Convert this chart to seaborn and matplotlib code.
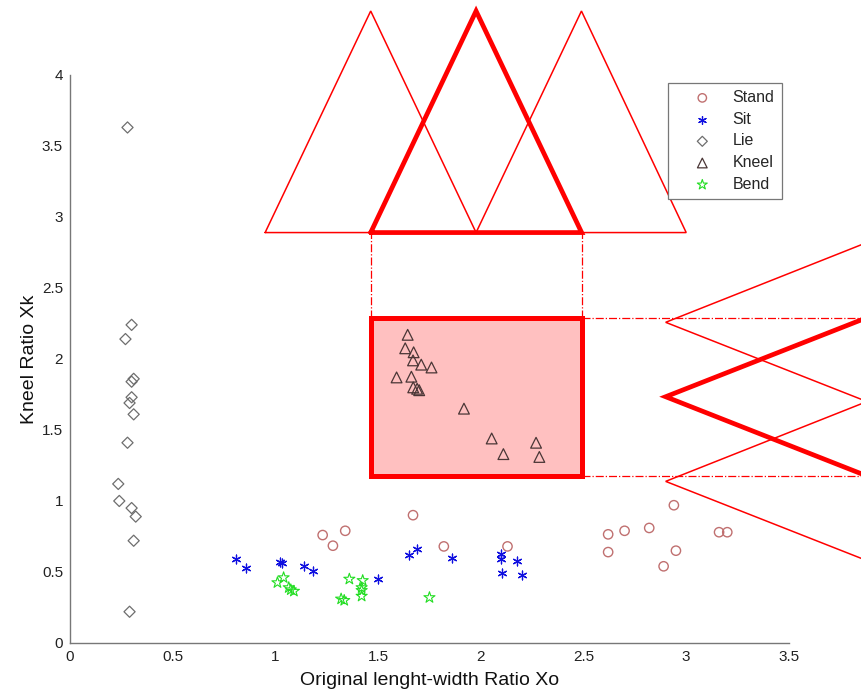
import numpy as np
import pandas as pd
import matplotlib
matplotlib.use("Agg")
import matplotlib.pyplot as plt
import matplotlib.patches as patches
import seaborn as sns

sns.set_style("white")
plt.rcParams['font.family'] = ['Liberation Sans', 'DejaVu Sans']

# ---- data ----
stand_x = [1.23, 1.28, 1.34, 1.67, 1.82, 2.13, 2.62, 2.62, 2.70, 2.82, 2.94, 2.95, 2.89, 3.16, 3.20]
stand_y = [0.76, 0.685, 0.79, 0.90, 0.68, 0.68, 0.765, 0.64, 0.79, 0.81, 0.97, 0.65, 0.54, 0.78, 0.78]

sit_x = [0.81, 0.855, 1.02, 1.03, 1.14, 1.185, 1.50, 1.65, 1.69, 1.86, 2.10, 2.10, 2.175, 2.105, 2.20]
sit_y = [0.59, 0.53, 0.57, 0.56, 0.54, 0.51, 0.45, 0.62, 0.66, 0.60, 0.63, 0.59, 0.58, 0.49, 0.48]

lie_x = [0.28, 0.30, 0.27, 0.31, 0.30, 0.30, 0.29, 0.31, 0.28, 0.235, 0.24, 0.30, 0.32, 0.31, 0.29]
lie_y = [3.63, 2.24, 2.14, 1.86, 1.84, 1.73, 1.69, 1.61, 1.41, 1.12, 1.00, 0.95, 0.89, 0.72, 0.22]

kneel_x = [1.644, 1.632, 1.673, 1.67, 1.71, 1.76, 1.59, 1.662, 1.671, 1.69, 1.70, 1.918, 2.053, 2.11, 2.269, 2.285]
kneel_y = [2.17, 2.075, 2.047, 1.99, 1.96, 1.94, 1.87, 1.875, 1.80, 1.79, 1.78, 1.65, 1.44, 1.33, 1.41, 1.31]

bend_x = [1.01, 1.04, 1.065, 1.075, 1.09, 1.32, 1.335, 1.36, 1.425, 1.42, 1.42, 1.42, 1.75]
bend_y = [0.425, 0.46, 0.39, 0.375, 0.365, 0.31, 0.30, 0.45, 0.44, 0.39, 0.37, 0.33, 0.32]

x_ticks = [0, 0.5, 1, 1.5, 2, 2.5, 3, 3.5]
x_tick_labels = ['0', '0.5', '1', '1.5', '2', '2.5', '3', '3.5']
y_ticks = [0, 0.5, 1, 1.5, 2, 2.5, 3, 3.5, 4]
y_tick_labels = ['0', '0.5', '1', '1.5', '2', '2.5', '3', '3.5', '4']

# fuzzy membership triangles (x-direction, on top) : left, peak, right
top_tri = [(0.95, 1.464, 1.977), (1.464, 1.977, 2.491), (1.977, 2.49, 3.0)]
top_base, top_peak = 2.89, 4.45
# y-direction triangles (right side) : low, peak, high
side_tri = [(1.70, 2.258, 2.82), (1.176, 1.734, 2.291), (0.58, 1.138, 1.70)]
side_peak, side_base = 2.90, 3.88
thick = 1  # index of the selected membership function

rect_x0, rect_x1 = 1.464, 2.491
rect_y0, rect_y1 = 1.176, 2.291

df = pd.concat([
    pd.DataFrame({'x': stand_x, 'y': stand_y, 'cls': 'Stand'}),
    pd.DataFrame({'x': sit_x, 'y': sit_y, 'cls': 'Sit'}),
    pd.DataFrame({'x': lie_x, 'y': lie_y, 'cls': 'Lie'}),
    pd.DataFrame({'x': kneel_x, 'y': kneel_y, 'cls': 'Kneel'}),
    pd.DataFrame({'x': bend_x, 'y': bend_y, 'cls': 'Bend'}),
])

fig = plt.figure(figsize=(8.62, 6.97), dpi=100)
ax = fig.add_axes([0.0812, 0.0775, 0.834, 0.815])

# highlighted region
ax.add_patch(patches.Rectangle((rect_x0, rect_y0), rect_x1 - rect_x0, rect_y1 - rect_y0,
                               facecolor='#ffc0c0', edgecolor='red', linewidth=3.6, zorder=1))

# top triangles
for i, (a, b, c) in enumerate(top_tri):
    lw = 3.4 if i == thick else 1.1
    ax.plot([a, b, c, a], [top_base, top_peak, top_base, top_base], color='red', lw=lw,
            clip_on=False, zorder=3, solid_joinstyle='miter')
# right triangles
for i, (lo, pk, hi) in enumerate(side_tri):
    lw = 3.4 if i == thick else 1.1
    ax.plot([side_base, side_peak, side_base], [hi, pk, lo], color='red', lw=lw,
            clip_on=False, zorder=3, solid_joinstyle='miter')

# dash-dot guides
for xv in (rect_x0, rect_x1):
    ax.plot([xv, xv], [rect_y1, top_base], color='red', lw=0.9, ls='-.', clip_on=False, zorder=2)
for yv in (rect_y0, rect_y1):
    ax.plot([rect_x1, 3.95], [yv, yv], color='red', lw=0.9, ls='-.', clip_on=False, zorder=2)

# points
styles = {
    'Stand': dict(marker='o', facecolor='none', edgecolor='#c07070', s=45, linewidth=1.0),
    'Sit': dict(marker=(6, 2, 0), color='#1010e0', s=40, linewidth=0.9),
    'Lie': dict(marker='D', facecolor='none', edgecolor='#6e6e6e', s=32, linewidth=0.9),
    'Kneel': dict(marker='^', facecolor='none', edgecolor='#4a3636', s=60, linewidth=0.9),
    'Bend': dict(marker='*', facecolor='none', edgecolor='#22dd22', s=70, linewidth=0.8),
}
for cls, kw in styles.items():
    sub = df[df['cls'] == cls]
    sns.scatterplot(data=sub, x='x', y='y', ax=ax, label=cls, zorder=4, **kw)

ax.set_xlim(0, 3.5)
ax.set_ylim(0, 4)
ax.set_xticks(x_ticks)
ax.set_xticklabels(x_tick_labels)
ax.set_yticks(y_ticks)
ax.set_yticklabels(y_tick_labels)
ax.tick_params(direction='in', length=5, width=0.8, color='#777777', labelsize=11,
               labelcolor='#222222', pad=5)
for side in ('top', 'right'):
    ax.spines[side].set_visible(False)
for side in ('left', 'bottom'):
    ax.spines[side].set_color('#777777')
    ax.spines[side].set_linewidth(1.0)

ax.set_xlabel('Original lenght-width Ratio Xo', fontsize=14, color='#111111', labelpad=6)
ax.set_ylabel('Kneel Ratio Xk', fontsize=14, color='#111111', labelpad=3)

leg = ax.legend(loc='upper right', bbox_to_anchor=(0.99, 0.986), fontsize=11.5,
                frameon=True, fancybox=False, framealpha=1, edgecolor='#777777',
                borderpad=0.45, labelspacing=0.42, handletextpad=0.2, handlelength=3.4,
                borderaxespad=0, markerscale=0.9)
leg.get_frame().set_linewidth(0.9)
leg.set_zorder(5)

fig.savefig('out.png', dpi=100)
